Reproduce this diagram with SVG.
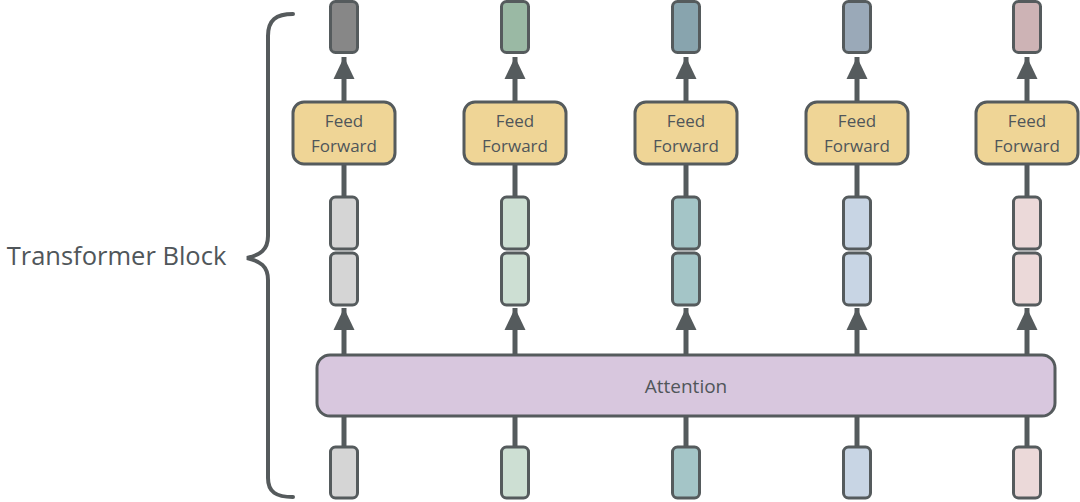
<svg xmlns="http://www.w3.org/2000/svg" width="1080" height="502" viewBox="0 0 1080 502">
<style>
.vec{stroke:#555b5d;stroke-width:3}
.ff{fill:#efd596;stroke:#555b5d;stroke-width:3}
.att{fill:#d8c7de;stroke:#555b5d;stroke-width:3}
.lbl{font-family:"Open Sans","Noto Sans",sans-serif;fill:#50565a;text-anchor:middle}
.ln{stroke:#555b5d;stroke-width:5;fill:none}
</style>
<defs>
<marker id="ah" markerUnits="userSpaceOnUse" markerWidth="24" markerHeight="24" viewBox="0 0 24 24" refX="22" refY="12" orient="auto">
<path d="M0,1.5 L22,12 L0,22.5 Z" fill="#555b5d"/>
</marker>
</defs>
<rect width="1080" height="502" fill="#ffffff"/>
<g id="connectors">
<line class="ln" x1="344" y1="102" x2="344" y2="57" marker-end="url(#ah)"/>
<line class="ln" x1="344" y1="164" x2="344" y2="197"/>
<line class="ln" x1="344" y1="355" x2="344" y2="308" marker-end="url(#ah)"/>
<line class="ln" x1="344" y1="416" x2="344" y2="447"/>
<line class="ln" x1="515" y1="102" x2="515" y2="57" marker-end="url(#ah)"/>
<line class="ln" x1="515" y1="164" x2="515" y2="197"/>
<line class="ln" x1="515" y1="355" x2="515" y2="308" marker-end="url(#ah)"/>
<line class="ln" x1="515" y1="416" x2="515" y2="447"/>
<line class="ln" x1="686" y1="102" x2="686" y2="57" marker-end="url(#ah)"/>
<line class="ln" x1="686" y1="164" x2="686" y2="197"/>
<line class="ln" x1="686" y1="355" x2="686" y2="308" marker-end="url(#ah)"/>
<line class="ln" x1="686" y1="416" x2="686" y2="447"/>
<line class="ln" x1="857" y1="102" x2="857" y2="57" marker-end="url(#ah)"/>
<line class="ln" x1="857" y1="164" x2="857" y2="197"/>
<line class="ln" x1="857" y1="355" x2="857" y2="308" marker-end="url(#ah)"/>
<line class="ln" x1="857" y1="416" x2="857" y2="447"/>
<line class="ln" x1="1027" y1="102" x2="1027" y2="57" marker-end="url(#ah)"/>
<line class="ln" x1="1027" y1="164" x2="1027" y2="197"/>
<line class="ln" x1="1027" y1="355" x2="1027" y2="308" marker-end="url(#ah)"/>
<line class="ln" x1="1027" y1="416" x2="1027" y2="447"/>
</g>
<g id="brace">
<path d="M293,14 C276,14 268,20 268,36 L268,236 C268,250 260,255 247,258 C260,261 268,266 268,280 L268,478 C268,492 276,497 293,497" fill="none" stroke="#555a5c" stroke-width="4" stroke-linecap="round"/>
<text class="lbl" x="116.5" y="265" font-size="25.5">Transformer Block</text>
</g>
<g id="attention">
<rect class="att" x="317" y="355" width="738" height="61" rx="13"/>
<text class="lbl" x="686" y="393" font-size="19">Attention</text>
</g>
<g id="col1">
<rect class="vec" x="330.5" y="1.5" width="27" height="51" rx="5" fill="#878787"/>
<rect class="ff" x="293" y="102" width="102" height="62" rx="11"/>
<text class="lbl" x="344" y="127" font-size="17">Feed</text>
<text class="lbl" x="344" y="152" font-size="17">Forward</text>
<rect class="vec" x="330.5" y="197" width="27" height="52" rx="5" fill="#d5d5d5"/>
<rect class="vec" x="330.5" y="253" width="27" height="52" rx="5" fill="#d5d5d5"/>
<rect class="vec" x="330.5" y="447" width="27" height="51" rx="5" fill="#d5d5d5"/>
</g>
<g id="col2">
<rect class="vec" x="501.5" y="1.5" width="27" height="51" rx="5" fill="#9ab9a4"/>
<rect class="ff" x="464" y="102" width="102" height="62" rx="11"/>
<text class="lbl" x="515" y="127" font-size="17">Feed</text>
<text class="lbl" x="515" y="152" font-size="17">Forward</text>
<rect class="vec" x="501.5" y="197" width="27" height="52" rx="5" fill="#cddfd3"/>
<rect class="vec" x="501.5" y="253" width="27" height="52" rx="5" fill="#cddfd3"/>
<rect class="vec" x="501.5" y="447" width="27" height="51" rx="5" fill="#cddfd3"/>
</g>
<g id="col3">
<rect class="vec" x="672.5" y="1.5" width="27" height="51" rx="5" fill="#88a4ae"/>
<rect class="ff" x="635" y="102" width="102" height="62" rx="11"/>
<text class="lbl" x="686" y="127" font-size="17">Feed</text>
<text class="lbl" x="686" y="152" font-size="17">Forward</text>
<rect class="vec" x="672.5" y="197" width="27" height="52" rx="5" fill="#a4c5c7"/>
<rect class="vec" x="672.5" y="253" width="27" height="52" rx="5" fill="#a4c5c7"/>
<rect class="vec" x="672.5" y="447" width="27" height="51" rx="5" fill="#a4c5c7"/>
</g>
<g id="col4">
<rect class="vec" x="843.5" y="1.5" width="27" height="51" rx="5" fill="#9aa9b8"/>
<rect class="ff" x="806" y="102" width="102" height="62" rx="11"/>
<text class="lbl" x="857" y="127" font-size="17">Feed</text>
<text class="lbl" x="857" y="152" font-size="17">Forward</text>
<rect class="vec" x="843.5" y="197" width="27" height="52" rx="5" fill="#c8d5e4"/>
<rect class="vec" x="843.5" y="253" width="27" height="52" rx="5" fill="#c8d5e4"/>
<rect class="vec" x="843.5" y="447" width="27" height="51" rx="5" fill="#c8d5e4"/>
</g>
<g id="col5">
<rect class="vec" x="1013.5" y="1.5" width="27" height="51" rx="5" fill="#cdb3b5"/>
<rect class="ff" x="976" y="102" width="102" height="62" rx="11"/>
<text class="lbl" x="1027" y="127" font-size="17">Feed</text>
<text class="lbl" x="1027" y="152" font-size="17">Forward</text>
<rect class="vec" x="1013.5" y="197" width="27" height="52" rx="5" fill="#ebd9d9"/>
<rect class="vec" x="1013.5" y="253" width="27" height="52" rx="5" fill="#ebd9d9"/>
<rect class="vec" x="1013.5" y="447" width="27" height="51" rx="5" fill="#ebd9d9"/>
</g>
</svg>
